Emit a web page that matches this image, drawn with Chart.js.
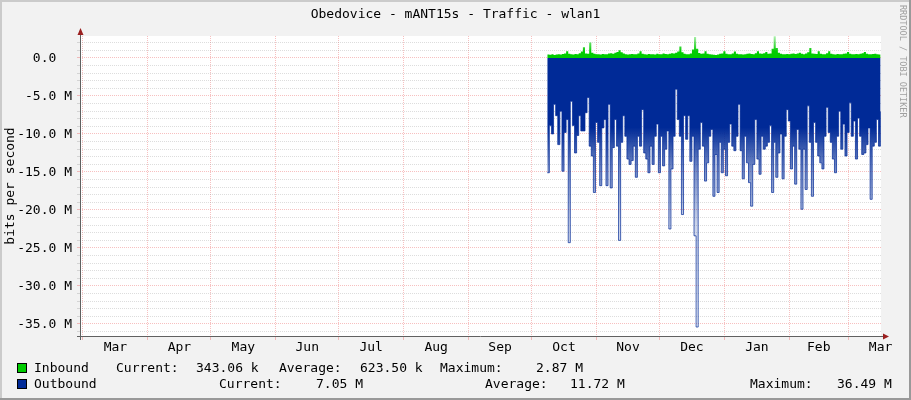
<!DOCTYPE html>
<html>
<head>
<meta charset="utf-8">
<script src="https://cdn.jsdelivr.net/npm/chart.js@4.4.1/dist/chart.umd.min.js"></script>
<style>
  html, body { margin: 0; padding: 0; background: #F2F2F2; }
  #frame { position: relative; width: 911px; height: 400px; background: #F2F2F2; overflow: hidden;
           font-family: 'DejaVu Sans Mono', monospace; font-size: 13px; color: #000; }
  #frame canvas { position: absolute; left: 0; top: 0; }
  .shade { position: absolute; }
  .t { position: absolute; white-space: pre; line-height: 16px; }
  .sw { position: absolute; left: 17px; width: 8px; height: 8px; border: 1px solid #000; }
  #title { left: 0; width: 911px; top: 6px; text-align: center; }
  #mark { position: absolute; left: 898px; top: 5px; writing-mode: vertical-rl; font-size: 8.5px;
          line-height: 10px; color: #A0A0A0; white-space: pre; }
</style>
</head>
<body>
<div id="frame">
  <canvas id="chart" width="911" height="400"></canvas>
  <div class="shade" style="left:0;top:0;width:911px;height:2px;background:#CBCBCB"></div>
  <div class="shade" style="left:0;top:0;width:2px;height:400px;background:#CBCBCB"></div>
  <div class="shade" style="left:0;top:398px;width:911px;height:2px;background:#999"></div>
  <div class="shade" style="left:909px;top:0;width:2px;height:400px;background:#999"></div>

  <div class="t" id="title">Obedovice - mANT15s - Traffic - wlan1</div>
  <div id="mark">RRDTOOL / TOBI OETIKER</div>

  <div class="sw" style="top:363px;background:#00CC00"></div>
  <div class="t" style="left:34px;top:360px">Inbound</div>
  <div class="t" style="left:116px;top:360px">Current:</div>
  <div class="t" style="left:196px;top:360px">343.06 k</div>
  <div class="t" style="left:279px;top:360px">Average:</div>
  <div class="t" style="left:360px;top:360px">623.50 k</div>
  <div class="t" style="left:440px;top:360px">Maximum:</div>
  <div class="t" style="left:536px;top:360px">2.87 M</div>

  <div class="sw" style="top:379px;background:#002A97"></div>
  <div class="t" style="left:34px;top:376px">Outbound</div>
  <div class="t" style="left:219px;top:376px">Current:</div>
  <div class="t" style="left:316px;top:376px">7.05 M</div>
  <div class="t" style="left:485px;top:376px">Average:</div>
  <div class="t" style="left:570px;top:376px">11.72 M</div>
  <div class="t" style="left:750px;top:376px">Maximum:</div>
  <div class="t" style="left:837px;top:376px">36.49 M</div>
</div>
<script>
// months on the x axis, day offsets counted from 1 March
const monthNames = ['Mar', 'Apr', 'May', 'Jun', 'Jul', 'Aug', 'Sep', 'Oct', 'Nov', 'Dec', 'Jan', 'Feb', 'Mar'];
const monthStarts = [0, 31, 61, 92, 122, 153, 184, 214, 245, 275, 306, 337, 365];
const monthLengths = [31, 30, 31, 30, 31, 31, 30, 31, 30, 31, 31, 28, 31];

// first sample (about 8 Oct), one sample per day, values in Mbit/s
const firstDay = 221.5;

const inbound = [
  0.45, 0.42, 0.48, 0.40, 0.44, 0.50, 0.46, 0.52, 0.60, 0.90,
  0.55, 0.48, 0.45, 0.52, 0.50, 0.62, 0.85, 1.40, 0.60, 0.55,
  2.05, 0.70, 0.55, 0.48, 0.50, 0.45, 0.52, 0.48, 0.50, 0.58,
  0.62, 0.55, 0.70, 0.80, 1.00, 0.75, 0.60, 0.50, 0.45, 0.48,
  0.52, 0.50, 0.48, 0.60, 0.90, 0.55, 0.50, 0.46, 0.52, 0.48,
  0.50, 0.45, 0.55, 0.50, 0.48, 0.60, 0.52, 0.50, 0.55, 0.62,
  0.58, 0.70, 0.85, 1.50, 0.75, 0.55, 0.50, 0.48, 0.60, 1.10,
  2.75, 1.20, 0.65, 0.55, 0.60, 0.90, 0.55, 0.50, 0.45, 0.42,
  0.40, 0.45, 0.55, 0.60, 0.90, 0.55, 0.50, 0.48, 0.60, 0.85,
  0.55, 0.50, 0.48, 0.45, 0.50, 0.55, 0.60, 0.52, 0.50, 0.62,
  0.90, 0.60, 0.55, 0.62, 0.80, 0.55, 0.60, 1.20, 2.87, 1.30,
  0.70, 0.55, 0.50, 0.48, 0.52, 0.50, 0.55, 0.58, 0.52, 0.60,
  0.70, 0.55, 0.50, 0.58, 0.75, 1.30, 0.60, 0.55, 0.52, 0.90,
  0.55, 0.50, 0.48, 0.62, 0.90, 0.55, 0.50, 0.46, 0.52, 0.50,
  0.48, 0.55, 0.60, 0.80, 0.55, 0.50, 0.48, 0.52, 0.50, 0.55,
  0.62, 0.80, 0.55, 0.50, 0.48, 0.52, 0.55, 0.50, 0.45, 0.34
];

// outbound is plotted below zero
const outbound = [
  -15.1, -8.9, -10.0, -6.1, -7.6, -11.4, -7.0, -14.9, -9.8, -8.1,
  -24.3, -5.7, -8.9, -12.5, -10.2, -7.6, -9.6, -9.6, -7.2, -5.2,
  -11.6, -12.9, -17.7, -8.5, -11.1, -16.8, -9.2, -8.1, -16.8, -6.1,
  -17.1, -11.8, -8.1, -11.6, -24.0, -11.1, -7.6, -10.3, -13.3, -14.0,
  -13.5, -11.6, -15.7, -10.3, -11.6, -6.8, -12.5, -13.3, -15.1, -11.6,
  -14.0, -10.3, -8.7, -15.1, -10.3, -14.2, -12.0, -9.6, -22.5, -14.6,
  -10.3, -4.1, -8.1, -10.3, -20.6, -7.6, -10.7, -7.6, -13.6, -10.3,
  -23.4, -35.4, -12.0, -8.5, -11.6, -16.2, -13.8, -10.3, -9.4, -18.2,
  -12.7, -17.7, -11.1, -15.1, -12.0, -15.5, -11.1, -8.7, -11.6, -12.2,
  -10.3, -6.1, -12.2, -15.9, -10.3, -13.8, -16.4, -19.5, -14.0, -8.1,
  -13.3, -15.3, -10.3, -12.0, -11.6, -11.1, -8.9, -17.7, -11.1, -15.7,
  -12.5, -10.0, -15.9, -10.3, -6.8, -8.3, -14.6, -11.6, -16.6, -9.4,
  -12.0, -19.9, -12.0, -17.3, -6.3, -11.1, -18.2, -8.5, -11.1, -12.9,
  -13.8, -14.6, -10.3, -6.5, -9.8, -11.1, -13.3, -15.1, -10.3, -7.0,
  -12.0, -8.7, -12.9, -9.8, -5.9, -10.3, -8.3, -13.3, -7.9, -10.3,
  -12.7, -12.5, -11.4, -9.2, -18.6, -11.6, -11.1, -8.1, -11.6, -7.05
];

// axis limits
const yMax = 2.89;
const yMin = -36.58;
const xMin = -1.4;
const xMax = 380.7;

const font = { family: 'DejaVu Sans Mono', size: 13 };
const majorGrid = 'rgba(235, 90, 90, 0.38)';
const minorGrid = 'rgba(150, 150, 150, 0.32)';

function areaGradient(chart, toValue, rgb, stops) {
    const area = chart.chartArea;
    if (!area) return 'rgb(' + rgb + ')';
    const y = chart.scales.y;
    const g = chart.ctx.createLinearGradient(0, y.getPixelForValue(0), 0, y.getPixelForValue(toValue));
    stops.forEach(([pos, a]) => g.addColorStop(pos, 'rgba(' + rgb + ',' + a + ')'));
    return g;
}

const rrdFrame = {
    id: 'rrdFrame',
    beforeDraw(chart) {
        const { ctx, chartArea: a } = chart;
        ctx.save();
        ctx.fillStyle = '#FFFFFF';
        ctx.fillRect(a.left + 1, a.top, a.right - a.left - 1, a.bottom - a.top);
        ctx.restore();
    },
    afterDraw(chart) {
        const { ctx, chartArea: a } = chart;
        const ax = a.left + 0.5, ay = a.bottom + 0.5;
        ctx.save();
        ctx.strokeStyle = '#606060';
        ctx.lineWidth = 1;
        ctx.beginPath();
        ctx.moveTo(ax, a.top - 2);
        ctx.lineTo(ax, a.bottom + 4);
        ctx.moveTo(a.left - 3, ay);
        ctx.lineTo(a.right + 3, ay);
        ctx.stroke();
        // arrows
        ctx.fillStyle = '#9B2020';
        ctx.beginPath();
        ctx.moveTo(ax, a.top - 8);
        ctx.lineTo(ax - 3, a.top - 1);
        ctx.lineTo(ax + 3, a.top - 1);
        ctx.closePath();
        ctx.fill();
        ctx.beginPath();
        ctx.moveTo(a.right + 8, ay);
        ctx.lineTo(a.right + 2, ay - 3);
        ctx.lineTo(a.right + 2, ay + 3);
        ctx.closePath();
        ctx.fill();
        ctx.restore();
    }
};

new Chart(document.getElementById('chart'), {
    type: 'line',
    data: {
        datasets: [
            {
                label: 'Inbound',
                data: inbound.map((v, i) => ({ x: firstDay + i, y: v })),
                stepped: true,
                fill: 'origin',
                borderWidth: 0,
                pointRadius: 0,
                backgroundColor: ctx => areaGradient(ctx.chart, 2.87, '0,204,0',
                    [[0, 1], [0.3, 1], [1, 0.3]])
            },
            {
                label: 'Outbound',
                data: outbound.map((v, i) => ({ x: firstDay + i, y: v })),
                stepped: true,
                fill: 'origin',
                borderWidth: 1,
                borderColor: 'rgba(0,42,151,0.7)',
                pointRadius: 0,
                backgroundColor: ctx => areaGradient(ctx.chart, yMin, '0,42,151',
                    [[0, 1], [0.25, 1], [0.4, 0.55], [0.6, 0.2], [1, 0.05]])
            }
        ]
    },
    options: {
        responsive: false,
        animation: false,
        events: [],
        layout: { padding: { top: 36, right: 30, bottom: 0, left: 0 } },
        plugins: {
            legend: { display: false },
            title: { display: false },
            tooltip: { enabled: false }
        },
        scales: {
            x: {
                type: 'linear',
                position: 'bottom',
                min: xMin,
                max: xMax,
                z: 1,
                afterBuildTicks: s => { s.ticks = monthStarts.map(v => ({ value: v })); },
                afterFit: s => { s.height = 0; },
                grid: { color: majorGrid, lineWidth: 1, drawTicks: true, tickLength: 4 },
                border: { display: false, dash: [1, 1] },
                ticks: { display: false }
            },
            x2: {
                type: 'linear',
                position: 'bottom',
                min: xMin,
                max: xMax,
                afterBuildTicks: s => { s.ticks = monthStarts.map((v, i) => ({ value: v + monthLengths[i] / 2 })); },
                afterFit: s => { s.height = 64; },
                grid: { display: false, drawTicks: false },
                border: { display: false },
                ticks: {
                    autoSkip: false,
                    maxRotation: 0,
                    padding: 4,
                    color: '#000',
                    font: font,
                    callback: (v, i) => monthNames[i]
                }
            },
            y: {
                type: 'linear',
                min: yMin,
                max: yMax,
                z: 1,
                afterBuildTicks: s => {
                    const t = [];
                    for (let v = Math.ceil(yMin); v <= Math.floor(yMax); v++) t.push({ value: v });
                    s.ticks = t;
                },
                afterFit: s => { s.width = 80; },
                grid: {
                    color: c => (c.tick && c.tick.value % 5 === 0) ? majorGrid : minorGrid,
                    lineWidth: 1,
                    tickLength: 3
                },
                border: { display: false, dash: [1, 1] },
                ticks: {
                    autoSkip: false,
                    padding: 5,
                    labelOffset: 1,
                    color: '#000',
                    font: font,
                    callback: v => v % 5 !== 0 ? '' : (v === 0 ? '0.0  ' : v.toFixed(1) + ' M')
                },
                title: {
                    display: true,
                    text: 'bits per second',
                    color: '#000',
                    font: font,
                    padding: { top: 3, bottom: 0 }
                }
            }
        }
    },
    plugins: [rrdFrame]
});
</script>
</body>
</html>
